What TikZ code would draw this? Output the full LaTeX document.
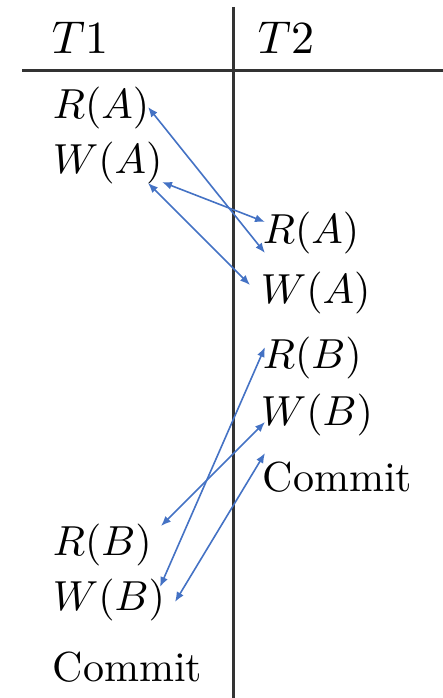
\documentclass[tikz,border=0pt]{standalone}
\usetikzlibrary{arrows.meta,calc}
\definecolor{arr}{HTML}{4472C4}
\begin{document}
\begin{tikzpicture}[x=1pt,y=-1pt,
  txt/.style={inner sep=0pt,anchor=base west,scale=4.2},
  head/.style={inner sep=0pt,anchor=base west,scale=4.6},
  link/.style={arr,line width=1.6pt,{Latex[length=10pt,width=8pt]}-{Latex[length=10pt,width=8pt]}},
  tablerule/.style={line width=3pt,black!80}]
\useasboundingbox (0,0) rectangle (443,698);
\draw[tablerule] (233,7) -- (233,698);
\draw[tablerule] (22,71) -- (443,71);
% headers
\node[head] (h1) at (51,54) {$T1$};
\node[head] (h2) at (257,54) {$T2$};
% T1 column
\node[txt] (ra1) at (52,118) {$R(A)$};
\node[txt] (wa1) at (52,173) {$W(A)$};
\node[txt] (rb1) at (52,555) {$R(B)$};
\node[txt] (wb1) at (52,610) {$W(B)$};
\node[txt] (c1) at (52,681) {Commit};
% T2 column
\node[txt] (ra2) at (262,243) {$R(A)$};
\node[txt] (wa2) at (260,303) {$W(A)$};
\node[txt] (rb2) at (262,368) {$R(B)$};
\node[txt] (wb2) at (260,425) {$W(B)$};
\node[txt] (c2) at (262,491) {Commit};
% arrows
\draw[link] ($(ra1.base west)+(96,-11)$) -- ($(ra2.base west)+(3,10)$);
\draw[link] ($(wa1.base west)+(110,9)$) -- ($(ra2.base west)+(3,-21)$);
\draw[link] ($(wa1.base west)+(96,10)$) -- ($(wa2.base west)+(-10,-18)$);
\draw[link] ($(rb2.base west)+(3,-21)$) -- ($(wb1.base west)+(108,-23)$);
\draw[link] ($(wb2.base west)+(5,-3)$) -- ($(rb1.base west)+(109,-29)$);
\draw[link] ($(c2.base west)+(3,-38)$) -- ($(wb1.base west)+(123,-8)$);
\end{tikzpicture}
\end{document}
